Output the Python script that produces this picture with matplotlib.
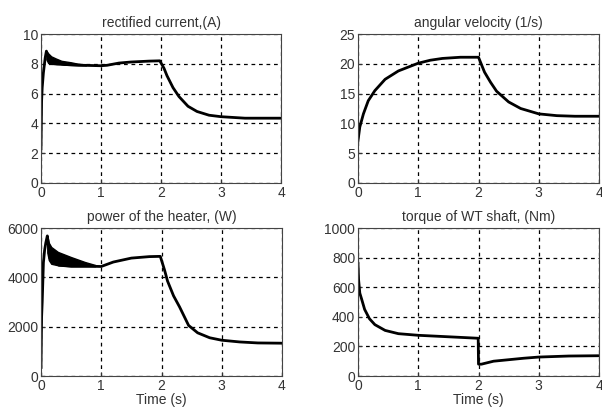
import matplotlib.pyplot as plt

plt.rcParams['font.family'] = ['Liberation Sans', 'DejaVu Sans']

# rectified current (A)
cur_t = [0.0, 0.01, 0.02, 0.04, 0.07, 0.09, 0.12, 0.2, 0.4, 0.7, 1.0, 1.1, 1.3, 1.5, 1.8, 1.98,
         2.05, 2.1, 2.2, 2.3, 2.45, 2.6, 2.8, 3.0, 3.2, 3.4, 3.7, 4.0]
cur_v = [2.3, 5.5, 6.4, 7.4, 8.4, 8.85, 8.5, 8.1, 7.95, 7.9, 7.87, 7.9, 8.05, 8.12, 8.18, 8.2,
         7.7, 7.2, 6.4, 5.8, 5.15, 4.8, 4.55, 4.45, 4.4, 4.35, 4.35, 4.35]
cur_band_t = [0.09, 0.12, 0.17, 0.25, 0.34, 0.5, 0.62, 0.75]
cur_band_hi = [8.85, 8.7, 8.5, 8.35, 8.2, 8.1, 8.0, 7.92]
cur_band_lo = [8.3, 8.05, 8.0, 7.97, 7.95, 7.92, 7.9, 7.9]

# angular velocity (1/s)
vel_t = [0.0, 0.03, 0.09, 0.17, 0.28, 0.45, 0.67, 1.0, 1.2, 1.4, 1.7, 2.0,
         2.1, 2.2, 2.3, 2.5, 2.7, 3.0, 3.3, 3.6, 4.0]
vel_v = [7.1, 9.4, 11.6, 13.8, 15.5, 17.4, 18.8, 20.1, 20.6, 20.9, 21.1, 21.1,
         18.6, 16.9, 15.4, 13.6, 12.5, 11.6, 11.3, 11.2, 11.2]

# power of the heater (W)
pow_t = [0.0, 0.01, 0.02, 0.04, 0.06, 0.08, 0.105, 0.15, 0.3, 0.5, 0.8, 1.0, 1.2, 1.5, 1.8, 1.98,
         2.05, 2.1, 2.2, 2.3, 2.45, 2.6, 2.8, 3.0, 3.3, 3.6, 4.0]
pow_v = [350, 2400, 3000, 4600, 5100, 5400, 5680, 4760, 4490, 4450, 4450, 4440, 4620, 4780, 4840, 4850,
         4300, 3850, 3250, 2800, 2050, 1750, 1550, 1450, 1380, 1340, 1330]
pow_band_t = [0.105, 0.13, 0.17, 0.28, 0.5, 0.73, 0.9]
pow_band_hi = [5680, 5400, 5230, 5030, 4820, 4620, 4500]
pow_band_lo = [5000, 4700, 4550, 4490, 4450, 4450, 4450]

# torque of WT shaft (Nm)
trq_t = [0.0, 0.01, 0.03, 0.06, 0.11, 0.19, 0.28, 0.45, 0.67, 1.0, 1.6, 1.995,
         2.0, 2.05, 2.25, 2.5, 2.75, 3.0, 3.5, 4.0]
trq_v = [760, 650, 560, 520, 450, 387, 347, 308, 286, 275, 263, 255,
         80, 80, 100, 110, 120, 128, 135, 137]

titles = ['rectified current,(A)', 'angular velocity (1/s)',
          'power of the heater, (W)', 'torque of WT shaft, (Nm)']
y_limits = [(0, 10), (0, 25), (0, 6000), (0, 1000)]
y_ticks = [[0, 2, 4, 6, 8, 10], [0, 5, 10, 15, 20, 25],
           [0, 2000, 4000, 6000], [0, 200, 400, 600, 800, 1000]]

fig = plt.figure(figsize=(6.02, 4.12), dpi=100)
boxes = [(41, 34, 281, 183), (358, 34, 599, 183), (41, 228, 282, 376), (358, 228, 599, 376)]
axes = []
for (x0, y0, x1, y1) in boxes:
    axes.append(fig.add_axes([x0 / 602, 1 - y1 / 412, (x1 - x0) / 602, (y1 - y0) / 412]))

series = [(cur_t, cur_v), (vel_t, vel_v), (pow_t, pow_v), (trq_t, trq_v)]
bands = {0: (cur_band_t, cur_band_hi, cur_band_lo), 2: (pow_band_t, pow_band_hi, pow_band_lo)}

for i, ax in enumerate(axes):
    t, v = series[i]
    ax.plot(t, v, color='black', linewidth=2)
    if i in bands:
        bt, hi, lo = bands[i]
        ax.fill_between(bt, lo, hi, color='black', linewidth=1)
    ax.set_xlim(0, 4)
    ax.set_ylim(*y_limits[i])
    ax.set_xticks([0, 1, 2, 3, 4])
    ax.set_yticks(y_ticks[i])
    ax.grid(True, color='black', linestyle=(0, (3, 3)), linewidth=0.9)
    ax.tick_params(direction='in', labelsize=10, colors='#333333', length=3, pad=2)
    for s in ax.spines.values():
        s.set_color('#444444')
    ax.set_title(titles[i], fontsize=10, color='#333333', pad=5)
    if i >= 2:
        ax.set_xlabel('Time (s)', fontsize=10, color='#333333', labelpad=0)

fig.savefig('out.png', dpi=100)
